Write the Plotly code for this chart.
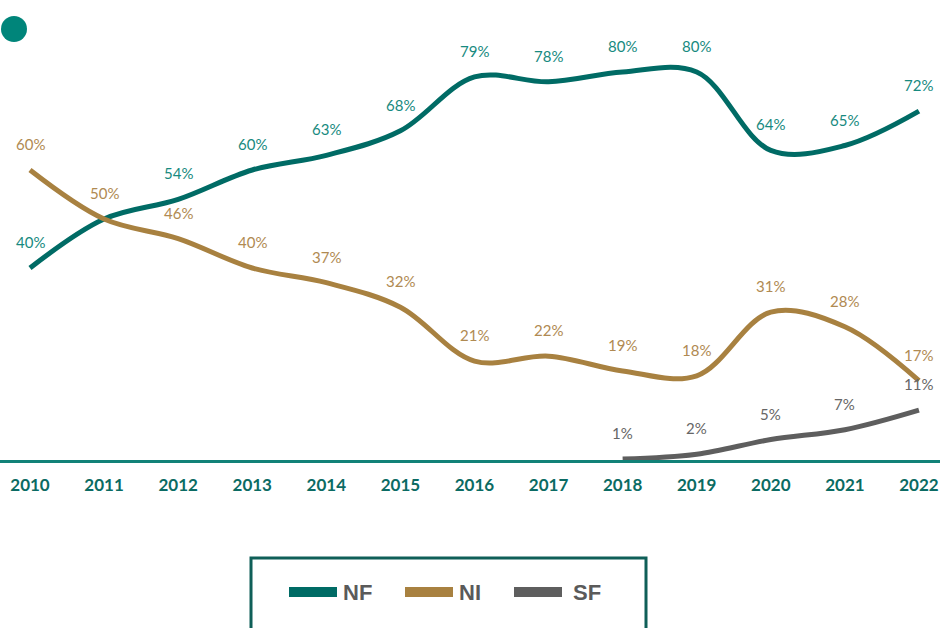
import plotly.graph_objects as go

years = list(range(2010, 2023))
nf_values = [40, 50, 54, 60, 63, 68, 79, 78, 80, 80, 64, 65, 72]
nf_labels = ["40%", "", "54%", "60%", "63%", "68%", "79%", "78%", "80%", "80%", "64%", "65%", "72%"]
ni_values = [60, 50, 46, 40, 37, 32, 21, 22, 19, 18, 31, 28, 17]
ni_labels = ["60%", "50%", "46%", "40%", "37%", "32%", "21%", "22%", "19%", "18%", "31%", "28%", "17%"]
sf_years = [2018, 2019, 2020, 2021, 2022]
sf_values = [1, 2, 5, 7, 11]
sf_labels = ["1%", "2%", "5%", "7%", "11%"]

series = [
    ("NF", years, nf_values, nf_labels, "#006b65", "#178a80"),
    ("NI", years, ni_values, ni_labels, "#a88140", "#b08a52"),
    ("SF", sf_years, sf_values, sf_labels, "#5e5e5e", "#666666"),
]

W, H = 940, 628
PLOT_BOTTOM = 460

fig = go.Figure()
annotations = []
for name, xs, ys, labels, lc, tc in series:
    fig.add_trace(go.Scatter(
        x=xs, y=ys, mode="lines", name=name,
        line=dict(color=lc, width=5, shape="spline", smoothing=1.0),
        showlegend=False, hoverinfo="skip",
    ))
    for x, y, t in zip(xs, ys, labels):
        if t:
            annotations.append(dict(
                x=x, y=y, xref="x", yref="y", text=t, showarrow=False,
                yshift=26, font=dict(family="Lato, sans-serif", size=15, color=tc),
            ))

def px_x(p):
    return p / W

def px_y(p):
    return (PLOT_BOTTOM - p) / PLOT_BOTTOM

shapes = [
    dict(type="circle", xref="paper", yref="paper",
         x0=px_x(1), x1=px_x(27), y0=px_y(42), y1=px_y(16),
         fillcolor="#00857a", line=dict(width=0)),
    dict(type="rect", xref="paper", yref="paper",
         x0=px_x(251), x1=px_x(646), y0=px_y(640), y1=px_y(558),
         fillcolor="rgba(0,0,0,0)", line=dict(color="#0f5f58", width=3)),
]
legend_items = [("NF", 289, 337, 341, "#006b65"), ("NI", 405, 453, 457, "#a88140"), ("SF", 514, 562, 571, "#5e5e5e")]
for name, x0, x1, tx, c in legend_items:
    shapes.append(dict(type="line", xref="paper", yref="paper",
                       x0=px_x(x0), x1=px_x(x1), y0=px_y(592), y1=px_y(592),
                       line=dict(color=c, width=10)))
    annotations.append(dict(xref="paper", yref="paper", x=px_x(tx), y=px_y(592),
                            xanchor="left", yanchor="middle", text="<b>%s</b>" % name,
                            showarrow=False,
                            font=dict(family="Liberation Sans, Arial, sans-serif", size=22, color="#5a5a5a")))

px_per_year = 74.08
x0_px = 30
xr = [2010 - x0_px / px_per_year, 2010 + (W - x0_px) / px_per_year]
px_per_pct = 4.9
y_zero_px = 464
ylo = (y_zero_px - PLOT_BOTTOM) / px_per_pct
yr = [ylo, ylo + PLOT_BOTTOM / px_per_pct]

fig.update_layout(
    width=W, height=H,
    margin=dict(l=0, r=0, t=0, b=H - PLOT_BOTTOM),
    paper_bgcolor="white", plot_bgcolor="white",
    xaxis=dict(range=xr, tickmode="array", tickvals=years, ticktext=[str(y) for y in years],
               showgrid=False, zeroline=False, showline=True, linecolor="#128278", linewidth=3,
               ticks="", ticklabelstandoff=8,
               tickfont=dict(family="Lato, sans-serif", size=17, color="#0b6b63", weight="bold")),
    yaxis=dict(range=yr, visible=False, showgrid=False, zeroline=False),
    shapes=shapes,
    annotations=annotations,
    showlegend=False,
)

fig.write_html("out.html", config={"displayModeBar": False},
               post_script="document.body.style.margin='0';document.body.style.padding='0';document.body.style.overflow='hidden';")
